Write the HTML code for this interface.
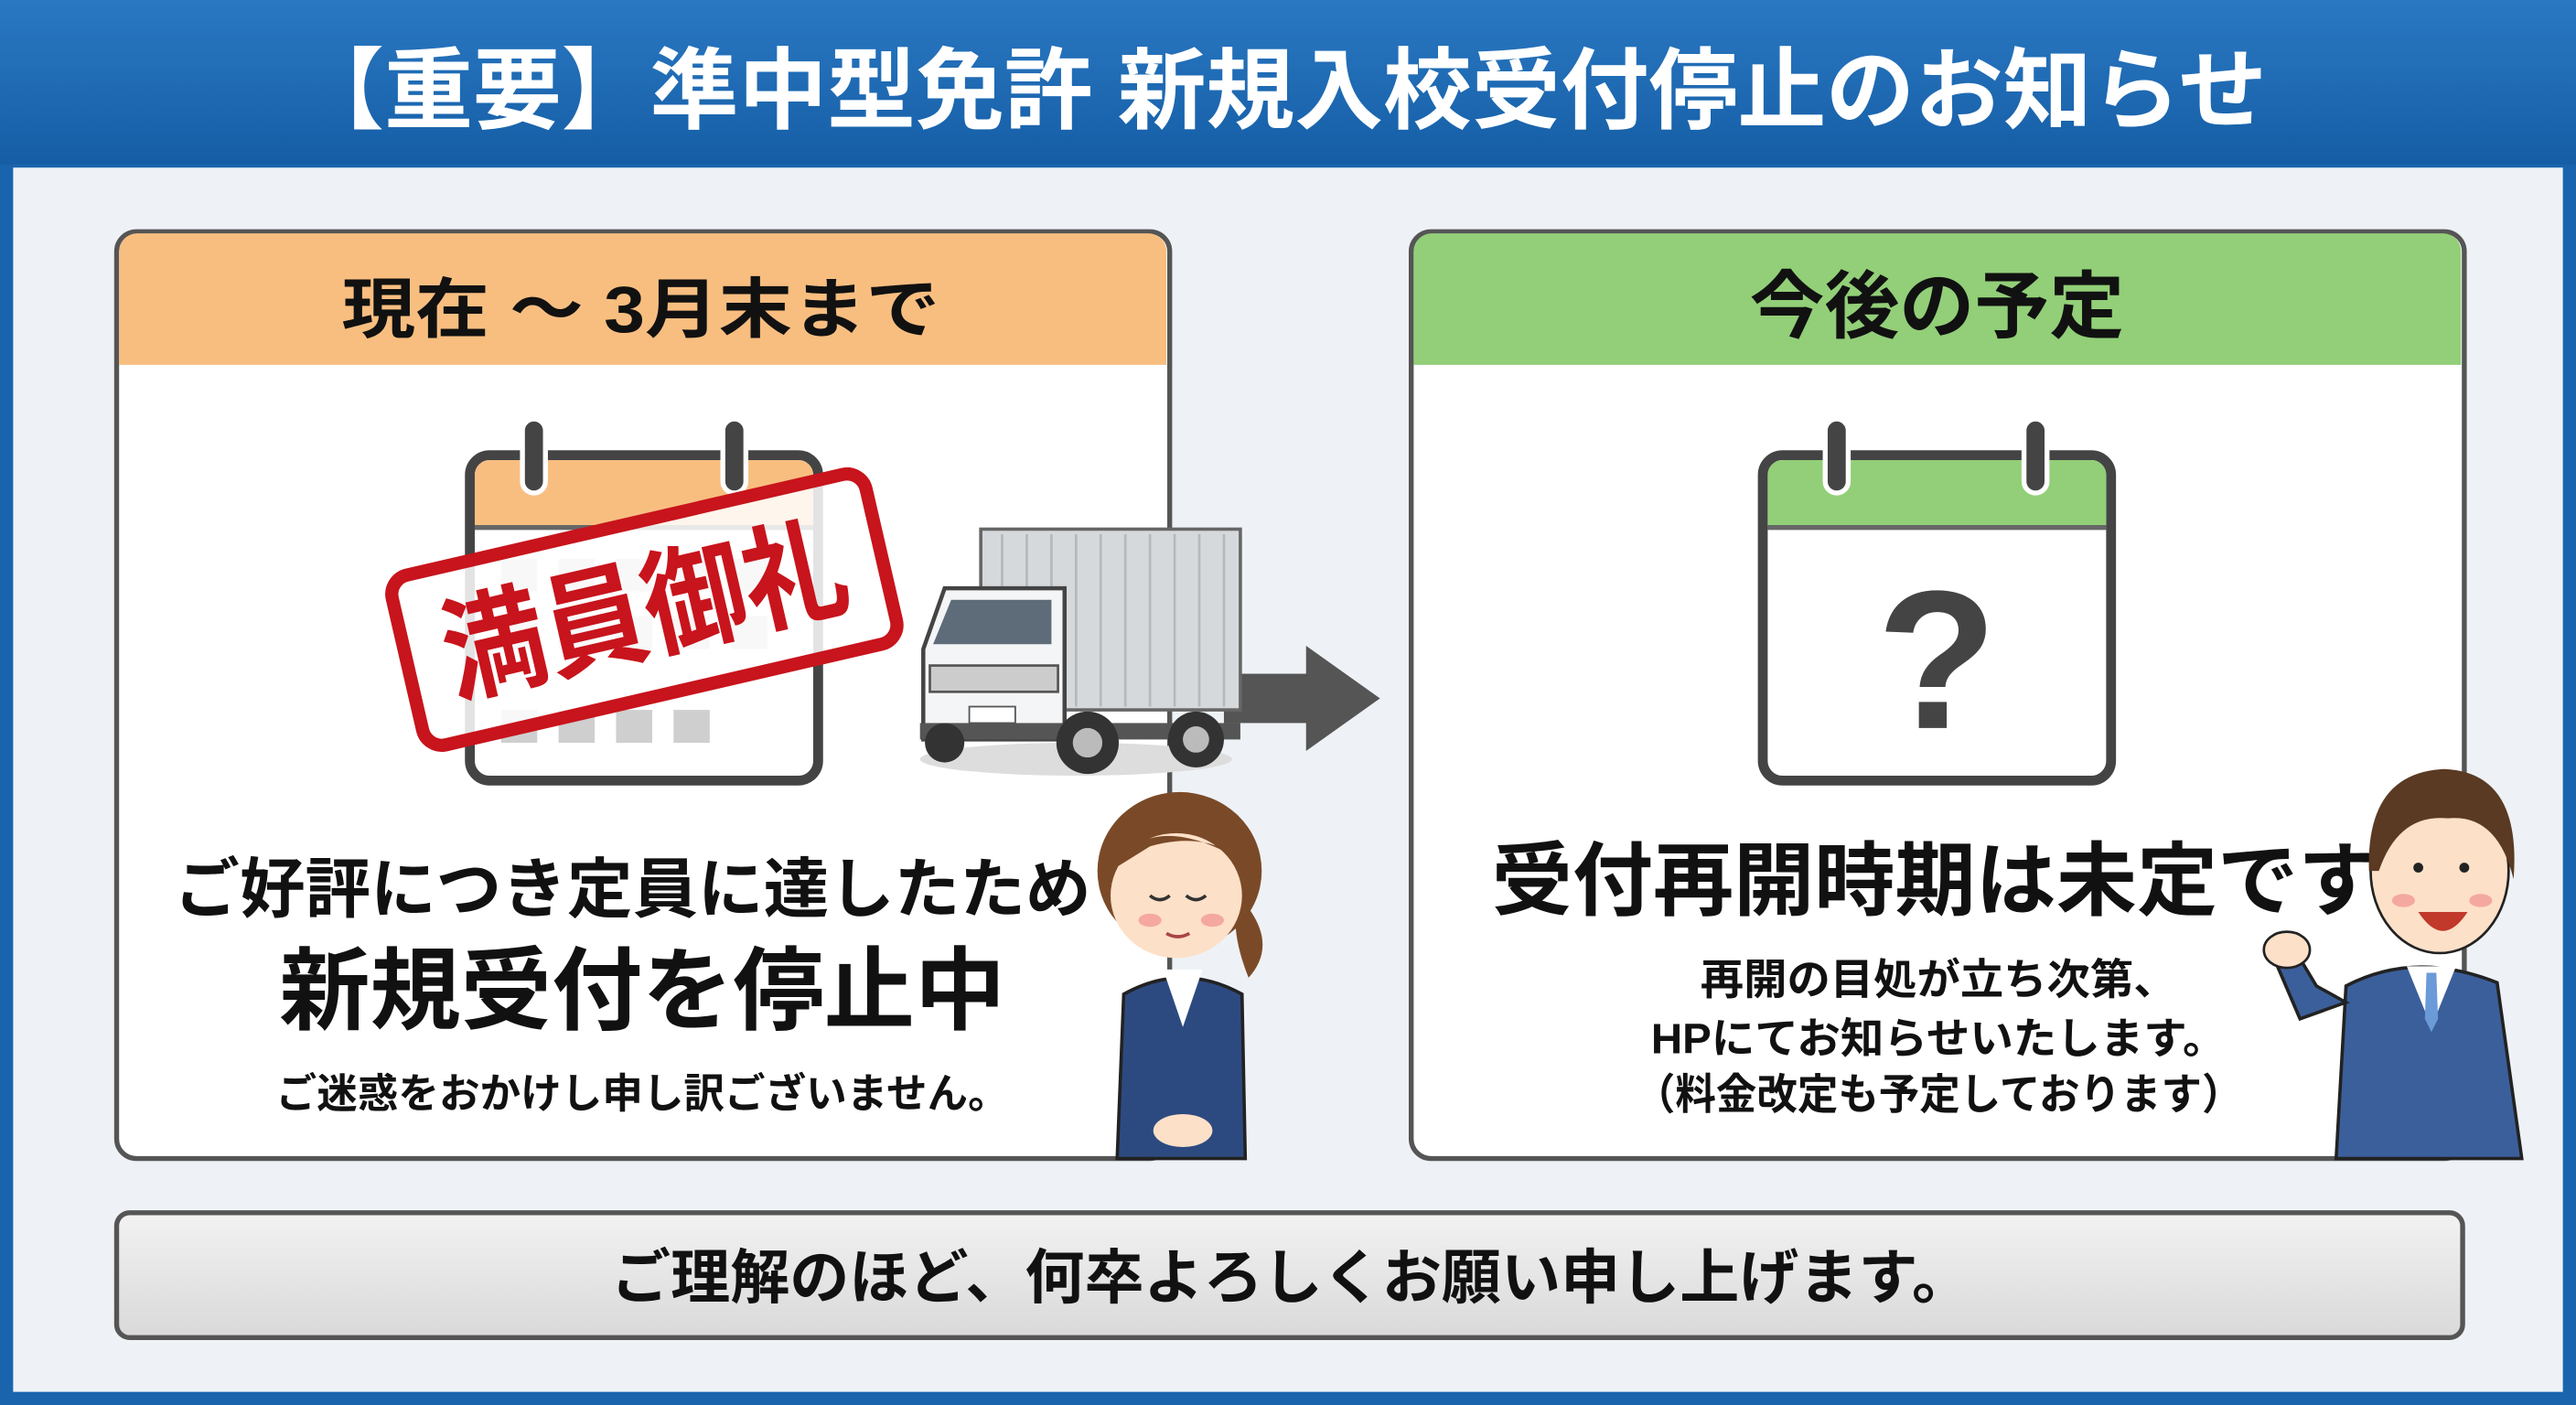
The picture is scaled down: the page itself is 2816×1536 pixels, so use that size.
<!DOCTYPE html>
<html><head><meta charset="utf-8"><style>
html,body{margin:0;padding:0;width:2816px;height:1536px;overflow:hidden;background:#eef2f6}
svg{display:block}
text{font-family:"Liberation Sans","Noto Sans CJK JP",sans-serif;font-weight:bold}
</style></head><body>
<svg width="2816" height="1536" viewBox="0 0 1568 855" preserveAspectRatio="none" xmlns="http://www.w3.org/2000/svg">
<defs>
<linearGradient id="hd" x1="0" y1="0" x2="0" y2="1"><stop offset="0" stop-color="#2a78c2"/><stop offset="1" stop-color="#155ea6"/></linearGradient>
<linearGradient id="bb" x1="0" y1="0" x2="0" y2="1"><stop offset="0" stop-color="#f2f2f2"/><stop offset="1" stop-color="#d9d9d9"/></linearGradient>
</defs>
<rect x="0" y="0" width="1568" height="855" fill="#1a64ae"/>
<rect x="0" y="0" width="1568" height="100" fill="url(#hd)"/>
<rect x="8" y="102" width="1552" height="745" fill="#eef2f6"/>
<text x="780" y="74" font-size="54" fill="#fff" text-anchor="middle" textLength="1200" lengthAdjust="spacingAndGlyphs">【重要】準中型免許 新規入校受付停止のお知らせ</text>

<!-- left panel -->
<rect x="71" y="141" width="641" height="564" rx="12" fill="#fff" stroke="#555" stroke-width="3"/>
<path d="M72.5 222 V153 a11 11 0 0 1 11 -11 H699 a11 11 0 0 1 11 11 V222 Z" fill="#f8be80"/>
<text x="390" y="202" font-size="40" fill="#111" text-anchor="middle" textLength="364" lengthAdjust="spacingAndGlyphs">現在 ～ 3月末まで</text>

<!-- left calendar -->
<rect x="286" y="277" width="212" height="198" rx="12" fill="#fff" stroke="#444" stroke-width="6"/>
<path d="M289 320 V289 a9 9 0 0 1 9 -9 H486 a9 9 0 0 1 9 9 V320 Z" fill="#f8be80"/>
<line x1="289" y1="321" x2="495" y2="321" stroke="#666" stroke-width="3"/>
<g fill="#cfcfcf">
<rect x="305" y="340" width="22" height="20"/><rect x="340" y="340" width="22" height="20"/><rect x="375" y="340" width="22" height="20"/><rect x="410" y="340" width="22" height="20"/><rect x="445" y="340" width="22" height="20"/>
<rect x="305" y="375" width="22" height="20"/><rect x="340" y="375" width="22" height="20"/><rect x="375" y="375" width="22" height="20"/><rect x="410" y="375" width="22" height="20"/><rect x="445" y="375" width="22" height="20"/>
<rect x="305" y="432" width="22" height="20"/><rect x="340" y="432" width="22" height="20"/><rect x="375" y="432" width="22" height="20"/><rect x="410" y="432" width="22" height="20"/>
</g>
<rect x="318" y="255" width="14" height="45" rx="7" fill="#444" stroke="#fff" stroke-width="3"/>
<rect x="440" y="255" width="14" height="45" rx="7" fill="#444" stroke="#fff" stroke-width="3"/>
<g transform="rotate(-13 392 370)">
<rect x="244" y="318" width="296" height="106" rx="12" fill="#fff" fill-opacity="0.85" stroke="#c8141c" stroke-width="8"/>
<text x="392" y="396" font-size="70" fill="#c8141c" text-anchor="middle" textLength="250" lengthAdjust="spacingAndGlyphs">満員御礼</text>
</g>

<!-- arrow -->
<rect x="745" y="410" width="55" height="30" fill="#555"/>
<polygon points="795,393 840,425 795,457" fill="#555"/>
<!-- truck -->
<ellipse cx="655" cy="462" rx="95" ry="10" fill="#ddd"/>
<rect x="597" y="322" width="158" height="110" fill="#d6d9dc" stroke="#666" stroke-width="2"/>
<g stroke="#b5b9bd" stroke-width="1.5"><line x1="610" y1="325" x2="610" y2="430"/><line x1="625" y1="325" x2="625" y2="430"/><line x1="640" y1="325" x2="640" y2="430"/><line x1="655" y1="325" x2="655" y2="430"/><line x1="670" y1="325" x2="670" y2="430"/><line x1="685" y1="325" x2="685" y2="430"/><line x1="700" y1="325" x2="700" y2="430"/><line x1="715" y1="325" x2="715" y2="430"/><line x1="730" y1="325" x2="730" y2="430"/><line x1="745" y1="325" x2="745" y2="430"/></g>
<path d="M562 450 V395 L575 358 H648 V450 Z" fill="#f4f5f6" stroke="#444" stroke-width="2.5"/>
<path d="M568 392 L579 365 H640 V392 Z" fill="#5d6c78"/>
<rect x="566" y="405" width="78" height="16" fill="#ccc" stroke="#555" stroke-width="1.5"/>
<rect x="590" y="430" width="28" height="10" fill="#fff" stroke="#555"/>
<rect x="560" y="440" width="195" height="10" fill="#555"/>
<circle cx="662" cy="452" r="19" fill="#333"/><circle cx="662" cy="452" r="9" fill="#bbb"/>
<circle cx="728" cy="450" r="17" fill="#333"/><circle cx="728" cy="450" r="8" fill="#bbb"/>
<circle cx="575" cy="452" r="12" fill="#333"/>

<text x="385" y="555" font-size="40" fill="#111" text-anchor="middle" textLength="558" lengthAdjust="spacingAndGlyphs">ご好評につき定員に達したため</text>
<text x="391" y="622" font-size="55" fill="#111" text-anchor="middle" textLength="442" lengthAdjust="spacingAndGlyphs">新規受付を停止中</text>
<text x="391" y="674" font-size="25" fill="#111" text-anchor="middle" textLength="446" lengthAdjust="spacingAndGlyphs">ご迷惑をおかけし申し訳ございません。</text>

<!-- woman -->
<path d="M680 705 L684 605 Q720 585 756 605 L758 705 Z" fill="#2d4a80" stroke="#222" stroke-width="2"/>
<path d="M708 590 L720 625 L732 590 Z" fill="#fff"/>
<ellipse cx="718" cy="530" rx="50" ry="48" fill="#7a4a28"/>
<path d="M758 550 Q778 575 760 595 Q752 575 752 560 Z" fill="#7a4a28"/>
<ellipse cx="716" cy="545" rx="40" ry="38" fill="#fde0c8"/>
<path d="M676 530 Q700 490 758 525 Q735 505 700 515 Z" fill="#7a4a28"/>
<path d="M700 545 q6 5 12 0 M722 545 q6 5 12 0" stroke="#333" stroke-width="2" fill="none"/>
<ellipse cx="700" cy="560" rx="7" ry="4" fill="#f5a8a0"/><ellipse cx="738" cy="560" rx="7" ry="4" fill="#f5a8a0"/>
<path d="M710 568 q7 4 14 0" stroke="#a44" stroke-width="2" fill="none"/>
<ellipse cx="720" cy="688" rx="18" ry="10" fill="#fde0c8"/>

<!-- right panel -->
<rect x="859" y="141" width="641" height="564" rx="12" fill="#fff" stroke="#555" stroke-width="3"/>
<path d="M860.5 222 V153 a11 11 0 0 1 11 -11 H1487 a11 11 0 0 1 11 11 V222 Z" fill="#92cf78"/>
<text x="1179" y="202" font-size="45" fill="#111" text-anchor="middle" textLength="228" lengthAdjust="spacingAndGlyphs">今後の予定</text>

<rect x="1073" y="277" width="212" height="198" rx="12" fill="#fff" stroke="#444" stroke-width="6"/>
<path d="M1076 320 V289 a9 9 0 0 1 9 -9 H1273 a9 9 0 0 1 9 9 V320 Z" fill="#92cf78"/>
<line x1="1076" y1="321" x2="1282" y2="321" stroke="#666" stroke-width="3"/>
<rect x="1111" y="255" width="14" height="45" rx="7" fill="#444" stroke="#fff" stroke-width="3"/>
<rect x="1232" y="255" width="14" height="45" rx="7" fill="#444" stroke="#fff" stroke-width="3"/>
<text x="1179" y="443" font-size="120" fill="#444" text-anchor="middle">?</text>

<text x="1178" y="553" font-size="49" fill="#111" text-anchor="middle" textLength="540" lengthAdjust="spacingAndGlyphs">受付再開時期は未定です</text>
<text x="1180" y="605" font-size="26" fill="#111" text-anchor="middle" textLength="290" lengthAdjust="spacingAndGlyphs">再開の目処が立ち次第、</text>
<text x="1180" y="641" font-size="26" fill="#111" text-anchor="middle" textLength="350" lengthAdjust="spacingAndGlyphs">HPにてお知らせいたします。</text>
<text x="1180" y="675" font-size="26" fill="#111" text-anchor="middle" textLength="370" lengthAdjust="spacingAndGlyphs">（料金改定も予定しております）</text>

<!-- man -->
<path d="M1422 705 L1428 600 Q1470 578 1520 598 L1535 705 Z" fill="#3b5f9a" stroke="#222" stroke-width="2"/>
<path d="M1428 610 L1400 620 L1385 585 L1398 580 L1410 600 Z" fill="#3b5f9a" stroke="#222" stroke-width="2"/>
<ellipse cx="1392" cy="578" rx="14" ry="11" fill="#fde0c8" stroke="#222" stroke-width="1.5"/>
<path d="M1465 588 L1480 625 L1495 588 Z" fill="#fff"/>
<path d="M1477 592 L1483 592 L1484 620 L1480 628 L1476 620 Z" fill="#6a9ad8"/>
<ellipse cx="1485" cy="530" rx="42" ry="50" fill="#fde0c8" stroke="#222" stroke-width="1.5"/>
<path d="M1442 530 Q1440 470 1488 468 Q1535 470 1530 535 Q1520 495 1490 498 Q1460 495 1448 530 Z" fill="#5a3a22"/>
<circle cx="1472" cy="528" r="3" fill="#222"/><circle cx="1500" cy="528" r="3" fill="#222"/>
<ellipse cx="1463" cy="548" rx="7" ry="4" fill="#f5a8a0"/><ellipse cx="1510" cy="548" rx="7" ry="4" fill="#f5a8a0"/>
<path d="M1472 555 Q1487 578 1502 555 Z" fill="#c0392b"/>

<!-- bottom bar -->
<rect x="71" y="738" width="1428" height="76" rx="8" fill="url(#bb)" stroke="#555" stroke-width="3"/>
<text x="786" y="790" font-size="36" fill="#111" text-anchor="middle" textLength="828" lengthAdjust="spacingAndGlyphs">ご理解のほど、何卒よろしくお願い申し上げます。</text>
</svg>
</body></html>
